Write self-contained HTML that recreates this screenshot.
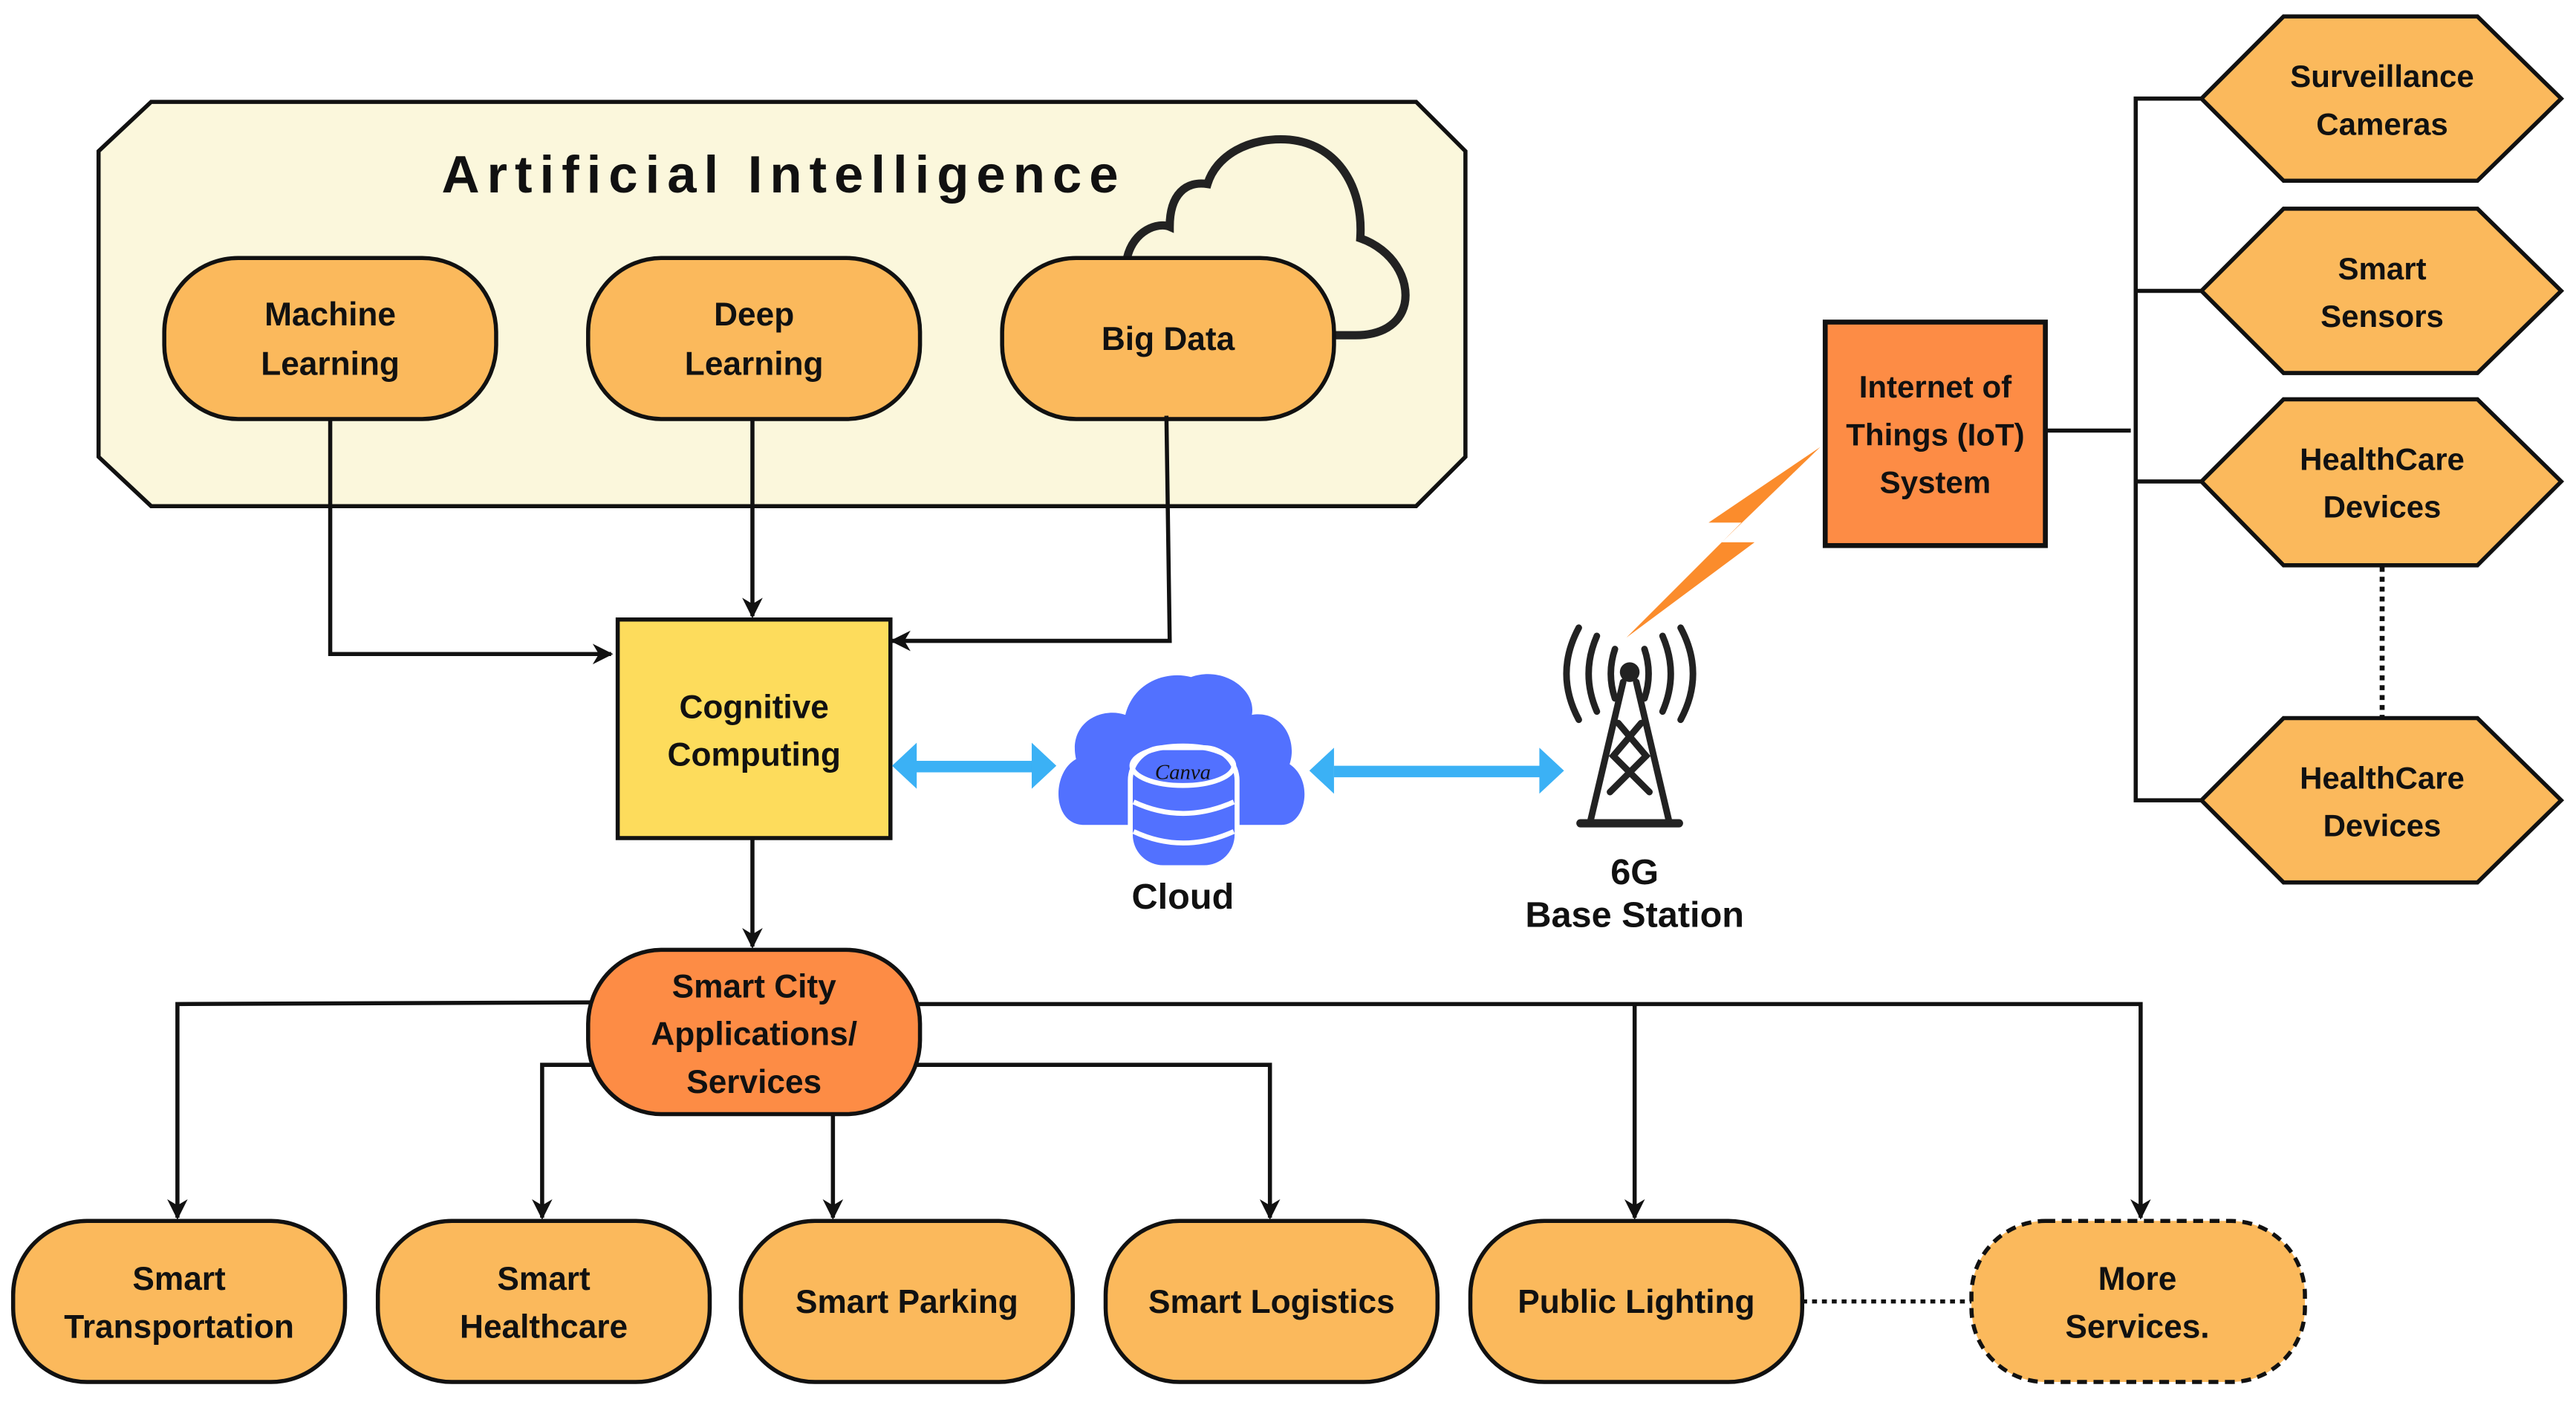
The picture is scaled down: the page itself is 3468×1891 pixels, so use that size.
<!DOCTYPE html>
<html><head><meta charset="utf-8"><style>
html,body{margin:0;padding:0;background:#fff;}
svg{display:block;}
text{font-family:"Liberation Sans",sans-serif;font-weight:bold;fill:#111;text-anchor:middle;}
</style></head><body>
<svg width="3468" height="1891" viewBox="0 0 1568 855" preserveAspectRatio="none" xmlns="http://www.w3.org/2000/svg">
<defs>
<marker id="ah" viewBox="0 0 10 10" refX="9" refY="5" markerWidth="5" markerHeight="5" orient="auto"><path d="M0,0 L10,5 L0,10 L3,5z" fill="#111"/></marker>
</defs>
<rect width="1568" height="855" fill="#fff"/>
<!-- AI box -->
<polygon points="92,62 862,62 892,92 892,278 862,308 92,308 60,278 60,92" fill="#fbf7dc" stroke="#111" stroke-width="2.5"/>
<text x="477" y="117" font-size="32" letter-spacing="4.5" style="font-weight:bold">Artificial Intelligence</text>
<!-- cloud outline -->
<path d="M686,157 C690,140 705,135 712,138 C712,118 722,110 735,112 C740,95 760,83 785,85 C815,88 830,115 828,145 C848,152 858,170 855,185 C852,198 840,204 825,204 L812,204" fill="none" stroke="#222" stroke-width="5"/>
<!-- pills -->
<g fill="#fbb95c" stroke="#111" stroke-width="2.5">
<rect x="100" y="157" width="202" height="98" rx="45"/>
<rect x="358" y="157" width="202" height="98" rx="45"/>
<rect x="610" y="157" width="202" height="98" rx="45"/>
</g>
<g font-size="20">
<text x="201" y="198">Machine</text><text x="201" y="228">Learning</text>
<text x="459" y="198">Deep</text><text x="459" y="228">Learning</text>
<text x="711" y="213">Big Data</text>
</g>
<!-- connectors to cognitive -->
<g fill="none" stroke="#111" stroke-width="2.5" marker-end="url(#ah)">
<path d="M201,255 V398 H372"/>
<path d="M458,255 V375"/>
<path d="M710,253 L712,390 H543"/>
</g>
<!-- cognitive -->
<rect x="376" y="377" width="166" height="133" fill="#fddc5c" stroke="#111" stroke-width="2.5"/>
<text x="459" y="437" font-size="20">Cognitive</text><text x="459" y="466" font-size="20">Computing</text>
<!-- blue arrows -->
<g fill="#3bb1f5">
<rect x="556" y="463" width="74" height="7"/>
<polygon points="543,466 558,452 558,480"/>
<polygon points="643,466 628,452 628,480"/>
<rect x="812" y="466" width="126" height="7"/>
<polygon points="797,469 812,455 812,483"/>
<polygon points="952,469 937,455 937,483"/>
</g>
<!-- blue cloud -->
<path d="M660,502 C640,502 640,470 655,462 C650,440 670,430 685,435 C690,415 710,408 725,412 C745,405 765,420 762,435 C780,432 790,450 785,465 C800,475 795,502 780,502 Z" fill="#5271ff"/>
<rect x="688" y="455" width="65" height="73" rx="20" fill="#5271ff" stroke="#fff" stroke-width="3"/>
<ellipse cx="720" cy="466" rx="31" ry="12" fill="none" stroke="#fff" stroke-width="3"/>
<path d="M690,488 Q720,502 751,488 M690,506 Q720,520 751,506" fill="none" stroke="#fff" stroke-width="3"/>
<text x="720" y="474" font-size="13" style="font-family:'Liberation Serif',serif;font-style:italic;font-weight:normal" fill="#3a4aa0">Canva</text>
<text x="720" y="553" font-size="22">Cloud</text>
<!-- tower -->
<g stroke="#222" fill="none" stroke-width="4" stroke-linecap="round">
<path d="M983,395 Q978,410 983,425 M1001,395 Q1006,410 1001,425"/>
<path d="M972,387 Q962,410 972,433 M1012,387 Q1022,410 1012,433"/>
<path d="M961,382 Q946,410 961,438 M1023,382 Q1038,410 1023,438"/>
<path d="M988,415 L968,500 M996,415 L1016,500 M985,440 L1002,460 L980,482 M999,440 L982,460 L1004,482"/>
<path d="M962,501 H1022" stroke-width="5"/>
</g>
<circle cx="992" cy="409" r="6" fill="#222"/>
<text x="995" y="538" font-size="22">6G</text>
<text x="995" y="564" font-size="22">Base Station</text>
<!-- lightning -->
<polygon points="1108,272 1040,318 1060,318 990,388 1068,330 1048,330" fill="#fb8c2c"/>
<!-- IoT -->
<rect x="1111" y="196" width="134" height="136" fill="#fd8c45" stroke="#111" stroke-width="3"/>
<g font-size="19"><text x="1178" y="242">Internet of</text><text x="1178" y="271">Things (IoT)</text><text x="1178" y="300">System</text></g>
<g stroke="#111" stroke-width="2.5" fill="none">
<path d="M1245,262 H1297"/>
<path d="M1340,60 H1300 V487 H1340 M1300,177 H1340 M1300,293 H1340"/>
<path d="M1450,345 V437" stroke-dasharray="3,3" stroke-width="3"/>
</g>
<g fill="#fbb95c" stroke="#111" stroke-width="2.5">
<polygon points="1340,60 1390,10 1508,10 1559,60 1508,110 1390,110"/>
<polygon points="1340,177 1390,127 1508,127 1559,177 1508,227 1390,227"/>
<polygon points="1340,293 1390,243 1508,243 1559,293 1508,344 1390,344"/>
<polygon points="1340,487 1390,437 1508,437 1559,487 1508,537 1390,537"/>
</g>
<g font-size="19">
<text x="1450" y="53">Surveillance</text><text x="1450" y="82">Cameras</text>
<text x="1450" y="170">Smart</text><text x="1450" y="199">Sensors</text>
<text x="1450" y="286">HealthCare</text><text x="1450" y="315">Devices</text>
<text x="1450" y="480">HealthCare</text><text x="1450" y="509">Devices</text>
</g>
<!-- smart city -->
<g fill="none" stroke="#111" stroke-width="2.5" marker-end="url(#ah)">
<path d="M458,510 V576"/>
<path d="M360,610 L108,611 V741"/>
<path d="M365,648 H330 V741"/>
<path d="M507,678 V741"/>
<path d="M558,648 H773 V741"/>
<path d="M558,611 H1303 V741"/>
<path d="M995,611 V741"/>
</g>
<rect x="358" y="578" width="202" height="100" rx="45" fill="#fd8c45" stroke="#111" stroke-width="2.5"/>
<g font-size="20"><text x="459" y="607">Smart City</text><text x="459" y="636">Applications/</text><text x="459" y="665">Services</text></g>
<g fill="#fbb95c" stroke="#111" stroke-width="2.5">
<rect x="8" y="743" width="202" height="98" rx="45"/>
<rect x="230" y="743" width="202" height="98" rx="45"/>
<rect x="451" y="743" width="202" height="98" rx="45"/>
<rect x="673" y="743" width="202" height="98" rx="45"/>
<rect x="895" y="743" width="202" height="98" rx="45"/>
<rect x="1200" y="743" width="203" height="98" rx="45" stroke-dasharray="6,4"/>
</g>
<path d="M1097,792 H1200" stroke="#111" stroke-width="2.5" stroke-dasharray="3,3"/>
<g font-size="20">
<text x="109" y="785">Smart</text><text x="109" y="814">Transportation</text>
<text x="331" y="785">Smart</text><text x="331" y="814">Healthcare</text>
<text x="552" y="799">Smart Parking</text>
<text x="774" y="799">Smart Logistics</text>
<text x="996" y="799">Public Lighting</text>
<text x="1301" y="785">More</text><text x="1301" y="814">Services.</text>
</g>
</svg>
</body></html>
